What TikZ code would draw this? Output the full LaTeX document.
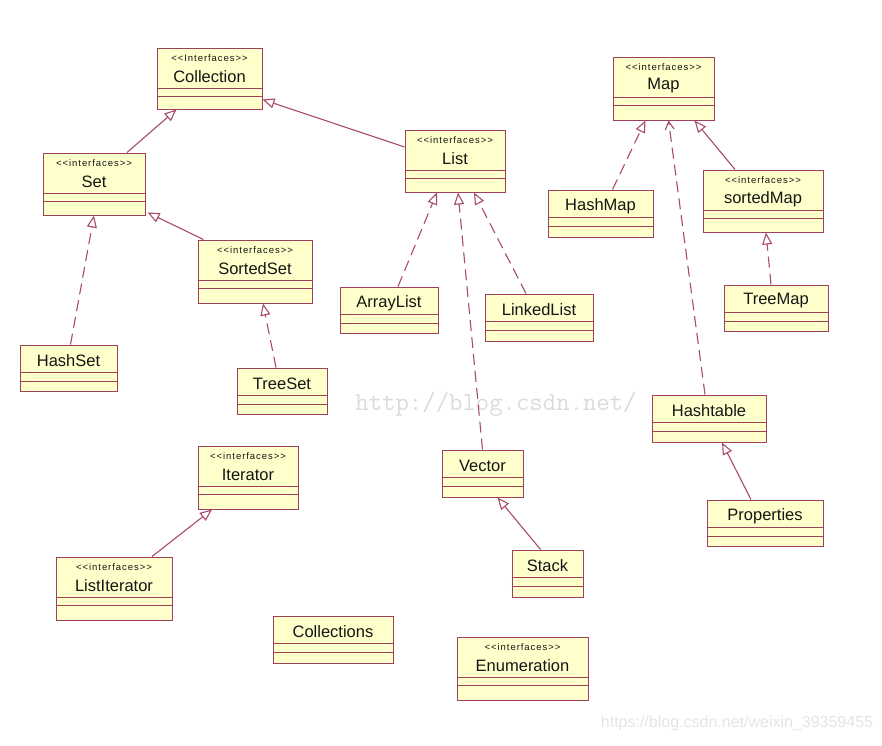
\documentclass[tikz,border=0pt]{standalone}
\usepackage{fontspec}
\setmainfont{Liberation Sans}
\newfontfamily\stfont[LetterSpace=10]{Liberation Sans}
\usetikzlibrary{arrows.meta,fit}
\definecolor{bord}{HTML}{A0405A}
\definecolor{boxfill}{HTML}{FFFFCC}
\definecolor{txt}{HTML}{151515}
\definecolor{conn}{HTML}{A84A6A}
\tikzset{
  umlbox/.style={draw=bord, fill=boxfill, line width=1pt, inner sep=0pt},
  sepline/.style={draw=bord, line width=1pt},
  stereo/.style={text=txt, font=\stfont\fontsize{9.5}{11}\selectfont, inner sep=0pt},
  ctitle/.style={text=txt, font=\fontsize{16.5}{19}\selectfont, inner sep=0pt},
  gen/.style={draw=conn, line width=1.1pt, -{Triangle[open, length=12pt, width=10pt]}},
  real/.style={gen, dash pattern=on 11pt off 6pt},
  dep/.style={draw=conn, line width=1.1pt, dash pattern=on 11pt off 6pt, -{Straight Barb[length=8pt, width=9pt]}},
}
\newcommand\ibox[6]{%
  \node[umlbox, fit={(#2,#3) (#4,#5)}] (#1) {};
  \draw[sepline] ([yshift=-41pt]#1.north west) -- ([yshift=-41pt]#1.north east);
  \draw[sepline] ([yshift=-49pt]#1.north west) -- ([yshift=-49pt]#1.north east);
  \node[stereo] (#1-st) at ([yshift=-11pt]#1.north) {<{}<interfaces>{}>};
  \node[ctitle] (#1-t) at ([yshift=-29.5pt]#1.north) {#6};
}
\newcommand\cbox[6]{%
  \node[umlbox, fit={(#2,#3) (#4,#5)}] (#1) {};
  \draw[sepline] ([yshift=-28pt]#1.north west) -- ([yshift=-28pt]#1.north east);
  \draw[sepline] ([yshift=-37pt]#1.north west) -- ([yshift=-37pt]#1.north east);
  \node[ctitle] (#1-t) at ([yshift=-16.5pt]#1.north) {#6};
}
\begin{document}
\begin{tikzpicture}[x=1pt,y=-1pt]
\path[fill=white] (0,0) rectangle (882,745);
\useasboundingbox (0,0) rectangle (882,745);

% watermarks
\node[text=black!14, font=\ttfamily\fontsize{26}{30}\selectfont, inner sep=0pt] (wm1) at (496,404) {http://blog.csdn.net/};
\node[text=black!10, font=\fontsize{16}{19}\selectfont, inner sep=0pt] (wm2) at (737,723) {https://blog.csdn.net/weixin\_39359455};

% interface boxes
\node[umlbox, fit={(157,48) (262,109)}] (coll) {};
\draw[sepline] ([yshift=-41pt]coll.north west) -- ([yshift=-41pt]coll.north east);
\draw[sepline] ([yshift=-49pt]coll.north west) -- ([yshift=-49pt]coll.north east);
\node[stereo] (coll-st) at ([yshift=-11pt]coll.north) {<{}<Interfaces>{}>};
\node[ctitle] (coll-t) at ([yshift=-29.5pt]coll.north) {Collection};

\ibox{set}{43}{153}{145}{215}{Set}
\ibox{list}{405}{130}{505}{192}{List}
\ibox{map}{613}{57}{714}{120}{Map}
\ibox{sset}{198}{240}{312}{303}{SortedSet}
\ibox{smap}{703}{170}{823}{232}{sortedMap}
\ibox{iter}{198}{446}{298}{509}{Iterator}
\ibox{liter}{56}{557}{172}{620}{ListIterator}
\ibox{enum}{457}{637}{588}{700}{Enumeration}

% class boxes
\cbox{hmap}{548}{190}{653}{237}{HashMap}
\cbox{tmap}{724}{285}{828}{331}{TreeMap}
\cbox{alist}{340}{287}{438}{333}{ArrayList}
\cbox{llist}{485}{294}{593}{341}{LinkedList}
\cbox{hset}{20}{345}{117}{391}{HashSet}
\cbox{tset}{237}{368}{327}{414}{TreeSet}
\cbox{htab}{652}{395}{766}{442}{Hashtable}
\cbox{props}{707}{500}{823}{546}{Properties}
\cbox{vec}{442}{450}{523}{497}{Vector}
\cbox{stack}{512}{550}{583}{597}{Stack}
\cbox{colls}{273}{616}{393}{663}{Collections}

% connectors
\draw[gen] ([xshift=33pt]set.north) -- ([xshift=-33pt]coll.south);
\draw[gen] ([yshift=14pt]list.west) -- ([yshift=-21pt]coll.east);
\draw[gen] ([xshift=6pt]sset.north west) -- ([xshift=2pt,yshift=3pt]set.south east);
\draw[real] ([xshift=2pt]hset.north) -- (set.south);
\draw[real] ([xshift=-6pt]tset.north) -- ([xshift=8pt]sset.south);
\draw[real] ([xshift=9pt]alist.north) -- ([xshift=-18pt]list.south);
\draw[real] (vec.north) -- ([xshift=3pt]list.south);
\draw[real] ([xshift=-13pt]llist.north) -- ([xshift=19pt]list.south);
\draw[real] ([xshift=12pt]hmap.north) -- ([xshift=-18pt]map.south);
\draw[dep] ([xshift=-4pt]htab.north) -- ([xshift=5pt]map.south);
\draw[gen] ([xshift=-28pt]smap.north) -- ([xshift=31pt]map.south);
\draw[real] ([xshift=-5pt]tmap.north) -- ([xshift=3pt]smap.south);
\draw[gen] ([xshift=-14pt]props.north) -- ([xshift=13pt]htab.south);
\draw[gen] ([xshift=-7pt]stack.north) -- ([xshift=15pt]vec.south);
\draw[gen] ([xshift=38pt]liter.north) -- ([xshift=-36pt]iter.south);
\end{tikzpicture}
\end{document}
